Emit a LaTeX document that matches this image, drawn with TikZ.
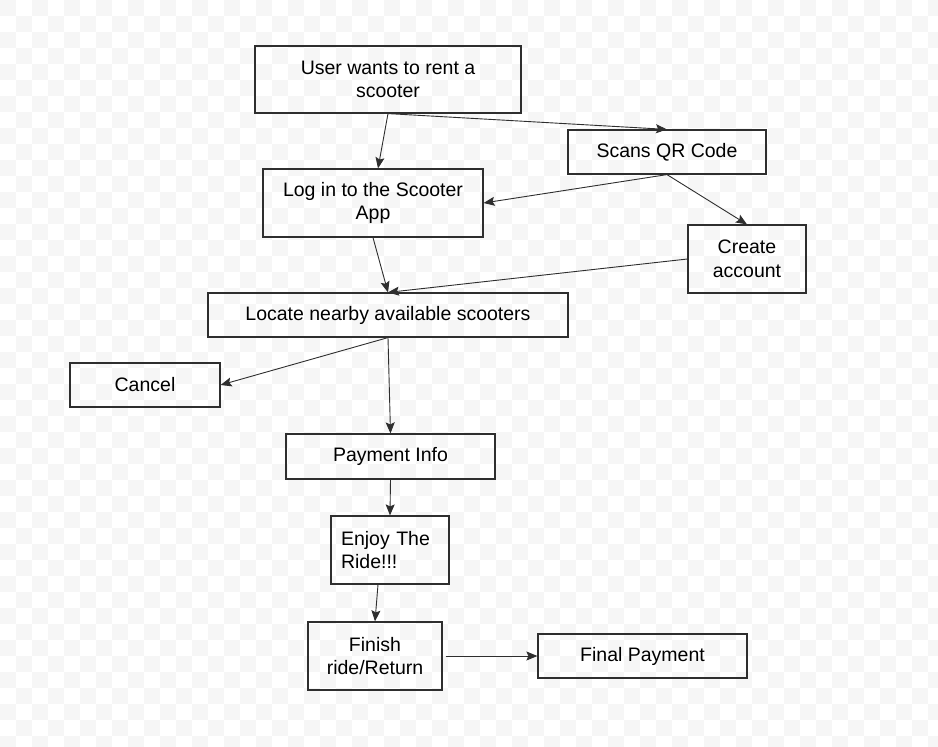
\documentclass[tikz,border=0pt]{standalone}
\usepackage{fontspec}
\setmainfont{Liberation Sans}
\usetikzlibrary{arrows.meta}
\definecolor{chk}{HTML}{F6F6F6}
\definecolor{edge}{HTML}{2E2E2E}
\tikzset{
  stepbox/.style={draw=edge, line width=1.2pt, align=center, inner sep=0pt,
    font=\fontsize{19.5}{23.5}\selectfont},
  flow/.style={draw=edge, line width=0.9pt, -{Stealth[length=11pt,width=9pt,inset=2pt]}}
}
\begin{document}
\begin{tikzpicture}[x=1pt, y=-1pt]
\useasboundingbox (0,0) rectangle (938,747);
% checkered canvas
\foreach \i in {0,...,58}{
  \foreach \j in {0,...,46}{
    \pgfmathparse{int(mod(\i+\j,2))}
    \ifnum\pgfmathresult=0 \fill[chk] (16*\i,16*\j) rectangle +(16,16);\fi
  }
}

\node[stepbox, minimum width=266, minimum height=67] (user) at (388,79.5) {User wants to rent a\\scooter};
\node[stepbox, minimum width=198, minimum height=44] (scan) at (667,152) {Scans QR Code};
\node[stepbox, minimum width=220, minimum height=68] (login) at (373,203) {Log in to the Scooter\\App};
\node[stepbox, minimum width=118, minimum height=68] (create) at (747,259) {Create\\account};
\node[stepbox, minimum width=360, minimum height=44] (locate) at (388,315) {Locate nearby available scooters};
\node[stepbox, minimum width=150, minimum height=44] (cancel) at (145,385) {Cancel};
\node[stepbox, minimum width=209, minimum height=45] (pay) at (390.5,456.5) {Payment Info};
\node[stepbox, minimum height=68, text width=98, inner xsep=10, align=left] (enjoy) at (390,550) {Enjoy The\\Ride!!!};
\node[stepbox, minimum width=134, minimum height=68] (finish) at (375,656) {Finish\\ride/Return};
\node[stepbox, minimum width=209, minimum height=44] (final) at (642.5,656) {Final Payment};

\draw[flow] (user.south) -- ([xshift=5]login.north);
\draw[flow] (user.south) -- (scan.north);
\draw[flow] (scan.south) -- (login.east);
\draw[flow] (scan.south) -- (create.north);
\draw[flow] (create.west) -- (locate.north);
\draw[flow] (login.south) -- (locate.north);
\draw[flow] (locate.south) -- (cancel.east);
\draw[flow] (locate.south) -- (pay.north);
\draw[flow] (pay.south) -- (enjoy.north);
\draw[flow] ([xshift=-12]enjoy.south) -- (finish.north);
\draw[flow] ([xshift=3]finish.east) -- (final.west);
\end{tikzpicture}
\end{document}
